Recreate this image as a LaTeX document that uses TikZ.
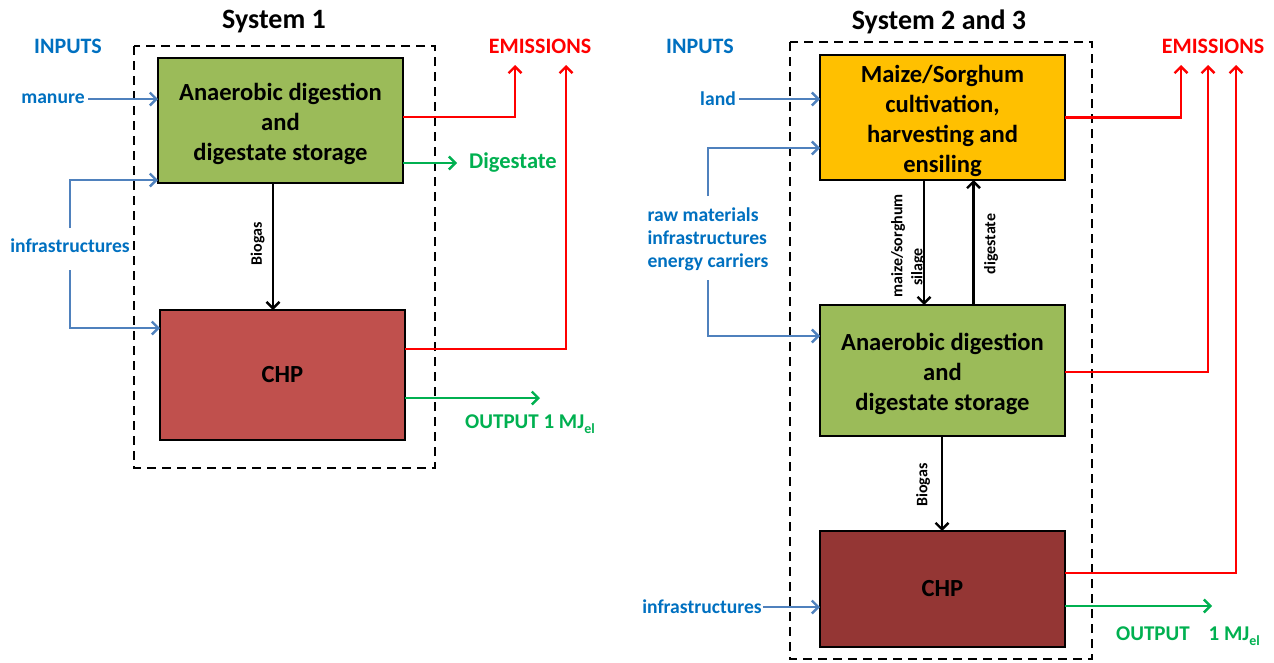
\documentclass[tikz,border=0pt]{standalone}
\usepackage{fontspec}
\setmainfont{Carlito}
\usetikzlibrary{arrows.meta}
\definecolor{boxgreen}{HTML}{9BBB59}
\definecolor{chpone}{HTML}{C0504D}
\definecolor{chptwo}{HTML}{943634}
\definecolor{boxyellow}{HTML}{FFC000}
\definecolor{lineblue}{HTML}{4F81BD}
\definecolor{textblue}{HTML}{0070C0}
\definecolor{emred}{HTML}{FF0000}
\definecolor{outgreen}{HTML}{00B050}
\newcommand{\elsub}{\raisebox{-4.5pt}{\fontsize{14}{14}\selectfont el}}
\newcommand{\topfix}{\rule{0pt}{24pt}}
\begin{document}
\begin{tikzpicture}[x=1pt,y=-1pt,
  box/.style={draw=black, line width=2.8pt, minimum width=245pt, inner sep=0pt, outer sep=0pt,
    align=center, font=\bfseries\fontsize{24.6}{30}\selectfont},
  sysframe/.style={draw=black, line width=2.8pt, dash pattern=on 9pt off 6pt},
  title/.style={font=\bfseries\fontsize{28}{32}\selectfont},
  head/.style={font=\bfseries\fontsize{22}{26}\selectfont},
  lab/.style={font=\bfseries\fontsize{19.6}{23}\selectfont, text=textblue},
  outlab/.style={font=\bfseries\fontsize{21}{25}\selectfont, text=outgreen},
  rlab/.style={font=\bfseries\fontsize{16}{20}\selectfont, rotate=90, align=center, inner sep=1pt},
  tip/.style={-{Straight Barb[length=6.5pt,width=13pt,line width=2.4pt]}},
  inarrow/.style={draw=lineblue, line width=2.5pt, tip},
  emarrow/.style={draw=emred, line width=2.7pt, tip},
  outarrow/.style={draw=outgreen, line width=2.7pt, tip},
  flow/.style={draw=black, line width=2.5pt, tip}]
\useasboundingbox (0,0) rectangle (1274,662);

% ---------------- System 1 ----------------
\node[title] (t1) at (274,22) {System 1};
\draw[sysframe] (134,46) rectangle (435,468);
\node[head, text=textblue] (in1) at (68,46) {INPUTS};
\node[head, text=emred] (em1) at (540,46) {EMISSIONS};

\node[box, fill=boxgreen, minimum height=125pt] (g1) at (280.5,120.5)
  {\topfix Anaerobic digestion\\and\\digestate storage};
\node[box, fill=chpone, minimum height=130pt] (c1) at (282.5,375) {CHP};

\node[lab] (man) at (53,99) {manure};
\node[lab] (inf1) at (70,246) {infrastructures};
\node[font=\bfseries\fontsize{22.5}{26}\selectfont, text=outgreen] (dig1) at (513,163) {Digestate};
\node[outlab] (out1) at (530,424) {OUTPUT 1 MJ\elsub};
\node[rlab] (bg1) at (257.5,243.5) {Biogas};

\coordinate (e1a) at (515,65);
\coordinate (e1b) at (566,65);
\coordinate (o1) at (540,398);
\coordinate (d1) at (457,163);

\draw[inarrow] (man.east) -- (man.east -| g1.west);
\draw[inarrow] ([yshift=18pt]inf1.center) |- ([yshift=3pt]g1.south west);
\draw[inarrow] ([yshift=-24pt]inf1.center) |- ([yshift=-18pt]c1.north west);
\draw[flow] ([xshift=-7.5pt]g1.south) -- ([xshift=-9.5pt]c1.north);
\draw[emarrow] ([yshift=3.5pt]g1.east) -| (e1a);
\draw[emarrow] ([yshift=26pt]c1.east) -| (e1b);
\draw[outarrow] (d1 -| g1.east) -- (d1);
\draw[outarrow] (o1 -| c1.east) -- (o1);

% ---------------- System 2 and 3 ----------------
\node[title] (t2) at (939,22) {System 2 and 3};
\draw[sysframe] (790,42) rectangle (1092,659);
\node[head, text=textblue] (in2) at (700,46) {INPUTS};
\node[head, text=emred] (em2) at (1213,46) {EMISSIONS};

\node[box, fill=boxyellow, minimum height=125pt] (y2) at (942.5,117.5)
  {\topfix Maize/Sorghum\\cultivation,\\harvesting and\\ensiling};
\node[box, fill=boxgreen, minimum height=131pt] (g2) at (942.5,370.5)
  {\topfix Anaerobic digestion\\and\\digestate storage};
\node[box, fill=chptwo, minimum height=116pt] (c2) at (942.5,589) {CHP};

\node[lab] (land) at (718,99) {land};
\node[lab, align=left] (raw) at (708,239) {raw materials\\infrastructures\\energy carriers};
\node[lab, inner sep=1pt] (inf2) at (702,607) {infrastructures};
\node[outlab] (out2) at (1188,636) {OUTPUT\hspace{0.9em}1 MJ\elsub};
\node[rlab] (ms) at (908,246) {maize/sorghum\\silage\hspace*{2.6em}};
\node[rlab] (dg) at (991,244) {digestate};
\node[rlab] (bg2) at (923,485) {Biogas};

\coordinate (e2a) at (1181,65);
\coordinate (e2b) at (1208,65);
\coordinate (e2c) at (1236,65);
\coordinate (o2) at (1212,606);

\draw[inarrow] (land.east) -- (land.east -| y2.west);
\draw[inarrow] ([yshift=43pt]raw.center) |- ([yshift=-30.5pt]y2.west);
\draw[inarrow] ([yshift=-41pt]raw.center) |- ([yshift=34.5pt]g2.west);
\draw[inarrow] (inf2.east) -- (inf2.east -| c2.west);
\draw[flow] ([xshift=-18.5pt]y2.south) -- ([xshift=-18.5pt]g2.north);
\draw[flow] ([xshift=31pt]g2.north) -- ([xshift=31pt]y2.south);
\draw[flow] ([xshift=-0.5pt]g2.south) -- ([xshift=-0.5pt]c2.north);
\draw[emarrow] (y2.east) -| (e2a);
\draw[emarrow] ([yshift=-1.5pt]g2.east) -| (e2b);
\draw[emarrow] ([yshift=16pt]c2.east) -| (e2c);
\draw[outarrow] (o2 -| c2.east) -- (o2);
\end{tikzpicture}
\end{document}
